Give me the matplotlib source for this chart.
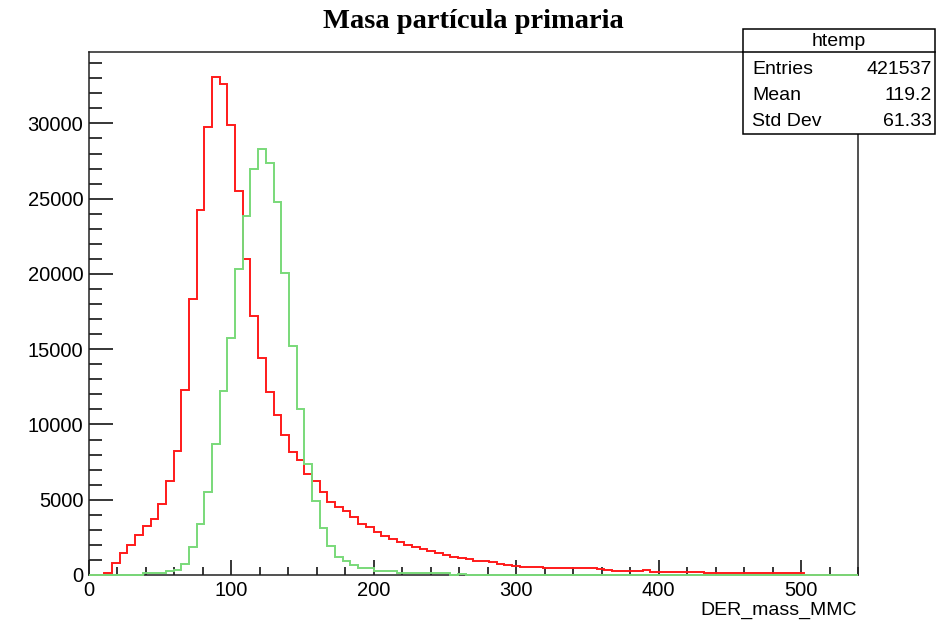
import numpy as np
import matplotlib.pyplot as plt
from matplotlib.ticker import MultipleLocator
from matplotlib.patches import Rectangle
from matplotlib.lines import Line2D


# histogram binning (100 bins, like ROOT's htemp)
nBins = 100
xLow, xHigh = 0, 540

# red histogram, counts per bin
red_counts = [0, 0, 150, 800, 1450, 2010, 2640, 3270, 3740, 4690,
              6220, 8250, 12260, 18330, 24260, 29770, 33090, 32650, 29900, 25480,
              20980, 17220, 14390, 12170, 10640, 9280, 8150, 7640, 6690, 6240,
              5530, 4850, 4500, 4250, 3830, 3390, 3170, 2840, 2590, 2390,
              2190, 2010, 1860, 1750, 1570, 1440, 1330, 1220, 1150, 1060,
              930, 930, 840, 750, 690, 620, 550, 550, 530, 490,
              490, 440, 440, 440, 440, 440, 380, 350, 290, 290,
              290, 290, 330, 200, 200, 200, 200, 200, 200, 200,
              110, 110, 110, 110, 110, 110, 110, 110, 110, 110,
              110, 110, 110, 0, 0, 0, 0, 0, 0, 0]

# green histogram, counts per bin
green_counts = [0, 0, 0, 0, 0, 0, 0, 100, 100, 100,
                265, 330, 750, 1860, 3390, 5530, 8710, 12200, 15760, 20320,
                23840, 26960, 28310, 27400, 24810, 20070, 15230, 11000, 7350, 4910,
                3140, 1950, 1220, 930, 660, 485, 485, 265, 265, 265,
                110, 110, 110, 110, 110, 110, 110, 0, 50, 0,
                0, 0, 0, 0, 0, 0, 0, 0, 0, 0,
                0, 0, 0, 0, 0, 0, 0, 0, 0, 0,
                0, 0, 0, 0, 0, 0, 0, 0, 0, 0,
                0, 0, 0, 0, 0, 0, 0, 0, 0, 0,
                0, 0, 0, 0, 0, 0, 0, 0, 0, 0]

# stats box text
statName = 'htemp'
statLabels = ['Entries', 'Mean', 'Std Dev']
statValues = ['421537', '119.2', '61.33']

plt.rcParams['font.family'] = ['Liberation Sans', 'DejaVu Sans']

edges = np.linspace(xLow, xHigh, nBins + 1)

fig = plt.figure(figsize=(9.53, 6.23), dpi=100)
ax = fig.add_axes([89/953, 48/623, 769/953, 523/623])

# histograms drawn over the frame, like ROOT does
ax.stairs(red_counts, edges, color='#ff1a1a', lw=1.4, baseline=None, zorder=3, clip_on=False)
ax.stairs(green_counts, edges, color='#79d979', lw=1.4, baseline=None, zorder=3.1, clip_on=False)

ax.set_xlim(xLow, xHigh)
ax.set_ylim(0, 1.05 * max(red_counts))

# ROOT style ticks: inside, only bottom and left
ax.xaxis.set_major_locator(MultipleLocator(100))
ax.xaxis.set_minor_locator(MultipleLocator(20))
ax.yaxis.set_major_locator(MultipleLocator(5000))
ax.yaxis.set_minor_locator(MultipleLocator(1000))
ax.tick_params(axis='x', which='major', direction='in', length=10.8, width=1.1,
               labelsize=14.5, pad=4)
ax.tick_params(axis='x', which='minor', direction='in', length=5.8, width=1.1)
ax.tick_params(axis='y', which='major', direction='in', length=17.3, width=1.1,
               labelsize=14.5, pad=4)
ax.tick_params(axis='y', which='minor', direction='in', length=9.4, width=1.1)
for s in ax.spines.values():
    s.set_linewidth(1.1)
    s.set_color('#222222')

# axis title sits at the right end, under the tick labels
fig.text(857/953, 1 - 610/623, 'DER_mass_MMC', ha='right', va='center', fontsize=14)

fig.text(0.497, 0.966, 'Masa partícula primaria', ha='center', va='center',
         fontsize=20.5, fontweight='bold', family='Liberation Serif')

# stats box in the top right corner
bx0, bx1 = 742.7/953, 935.3/953
by0, by1 = 1 - 133.7/623, 1 - 29/623
fig.patches.append(Rectangle((bx0, by0), bx1 - bx0, by1 - by0, transform=fig.transFigure,
                             facecolor='white', edgecolor='black', lw=1.1, zorder=5))
fig.lines.append(Line2D([bx0, bx1], [1 - 52.3/623] * 2, transform=fig.transFigure,
                        color='black', lw=1.1, zorder=6))
fig.text((bx0 + bx1) / 2, 1 - 42/623, statName, ha='center', va='center',
         fontsize=14, zorder=7)
rowsY = [70, 96, 121]
for lab, val, yy in zip(statLabels, statValues, rowsY):
    fig.text(752/953, 1 - yy/623, lab, ha='left', va='center', fontsize=14, zorder=7)
    fig.text(932/953, 1 - yy/623, val, ha='right', va='center', fontsize=14, zorder=7)

fig.savefig('out.png', dpi=100)
